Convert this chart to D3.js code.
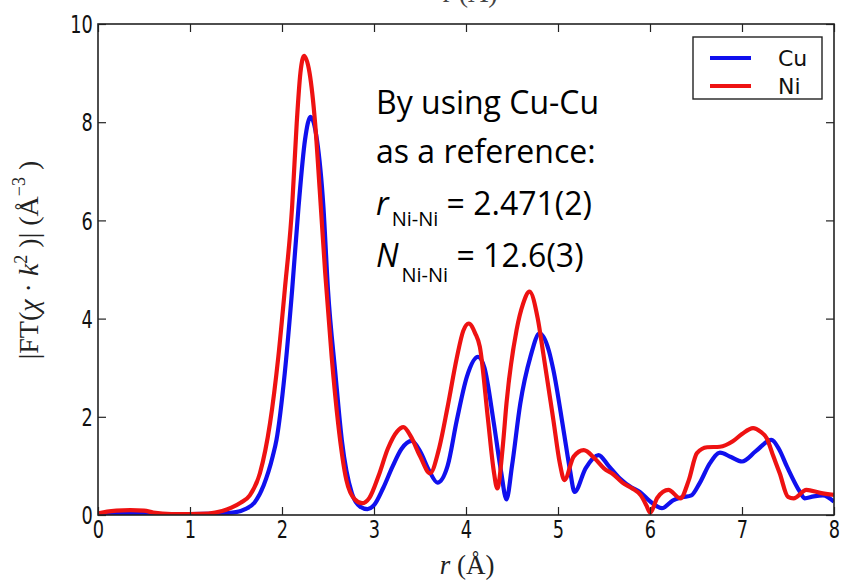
<!DOCTYPE html>
<html>
<head>
<meta charset="utf-8">
<script src="https://cdn.jsdelivr.net/npm/d3@7"></script>
<style>
  body { margin: 0; background: #fff; }
  svg { display: block; }
</style>
</head>
<body>
<svg id="chart" width="843" height="584"></svg>
<script>
// ---- data ----
const seriesNames = ["Cu", "Ni"];
const xTicks = [0, 1, 2, 3, 4, 5, 6, 7, 8];
const yTicks = [0, 2, 4, 6, 8, 10];

const rCu = [0, 0.3, 0.6, 1.0, 1.3, 1.5, 1.6, 1.7, 1.8, 1.9, 1.94, 2.03, 2.11, 2.18, 2.25, 2.31, 2.38, 2.45, 2.50, 2.58, 2.65, 2.76, 2.85, 2.93, 3.0, 3.1, 3.2, 3.3, 3.41, 3.5, 3.6, 3.69, 3.8, 3.9, 4.01, 4.13, 4.2, 4.3, 4.38, 4.44, 4.5, 4.59, 4.7, 4.80, 4.9, 4.95, 5.06, 5.13, 5.18, 5.3, 5.44, 5.55, 5.67, 5.8, 5.89, 6.0, 6.13, 6.25, 6.35, 6.45, 6.54, 6.65, 6.76, 6.88, 7.0, 7.15, 7.32, 7.4, 7.49, 7.63, 7.68, 7.78, 7.88, 8.0];
const cuValues = [0.02, 0.03, 0.02, 0.02, 0.03, 0.06, 0.12, 0.25, 0.6, 1.2, 1.53, 2.89, 4.58, 6.28, 7.64, 8.11, 7.64, 6.28, 4.58, 2.89, 1.53, 0.44, 0.17, 0.12, 0.2, 0.55, 0.98, 1.35, 1.51, 1.3, 0.9, 0.66, 1.0, 1.93, 2.82, 3.22, 3.0, 1.9, 0.9, 0.32, 1.0, 2.27, 3.22, 3.70, 3.35, 2.95, 1.73, 0.92, 0.47, 0.95, 1.22, 1.0, 0.75, 0.56, 0.47, 0.28, 0.14, 0.3, 0.36, 0.4, 0.65, 1.05, 1.27, 1.18, 1.09, 1.3, 1.53, 1.35, 0.98, 0.47, 0.34, 0.38, 0.40, 0.27];

const rNi = [0, 0.1, 0.2, 0.35, 0.5, 0.6, 0.8, 1.0, 1.2, 1.35, 1.45, 1.55, 1.65, 1.76, 1.87, 1.96, 2.03, 2.11, 2.16, 2.20, 2.24, 2.30, 2.36, 2.41, 2.47, 2.54, 2.61, 2.70, 2.79, 2.87, 2.95, 3.05, 3.15, 3.25, 3.32, 3.4, 3.5, 3.61, 3.7, 3.8, 3.9, 3.97, 4.03, 4.1, 4.15, 4.24, 4.30, 4.34, 4.4, 4.44, 4.55, 4.62, 4.69, 4.78, 4.84, 4.95, 5.02, 5.07, 5.17, 5.28, 5.4, 5.5, 5.6, 5.7, 5.8, 5.9, 5.96, 6.0, 6.08, 6.20, 6.33, 6.42, 6.51, 6.62, 6.76, 6.9, 7.0, 7.12, 7.2, 7.27, 7.34, 7.41, 7.5, 7.56, 7.70, 7.85, 8.0];
const niValues = [0.03, 0.07, 0.09, 0.1, 0.09, 0.05, 0.02, 0.02, 0.03, 0.08, 0.15, 0.25, 0.4, 0.85, 1.87, 3.22, 4.58, 6.28, 7.98, 9.0, 9.35, 9.0, 7.98, 6.62, 4.92, 3.22, 1.87, 0.71, 0.32, 0.24, 0.35, 0.8, 1.35, 1.7, 1.79, 1.6, 1.2, 0.85, 1.3, 2.2, 3.2, 3.75, 3.90, 3.7, 3.43, 1.93, 0.92, 0.54, 1.4, 2.27, 3.77, 4.3, 4.55, 4.0, 3.29, 1.93, 1.05, 0.71, 1.19, 1.32, 1.15, 0.95, 0.83, 0.66, 0.55, 0.4, 0.2, 0.05, 0.35, 0.51, 0.34, 0.7, 1.26, 1.38, 1.39, 1.5, 1.65, 1.77, 1.7, 1.56, 1.2, 0.85, 0.37, 0.34, 0.51, 0.45, 0.41];

const colors = { Cu: "#1010ee", Ni: "#ee1212" };

// ---- layout ----
const svg = d3.select("#chart");
const x = d3.scaleLinear().domain([0, 8]).range([98, 834]);
const y = d3.scaleLinear().domain([0, 10]).range([515, 24]);

const tickFont = "'DejaVu Sans', sans-serif";

// title fragment, mostly above the visible page as in the reference
svg.append("text")
  .attr("x", 470).attr("y", 2)
  .attr("text-anchor", "middle")
  .attr("font-family", "'Liberation Serif', serif")
  .attr("font-size", 28)
  .attr("fill", "#444")
  .text("r (Å)");

// curves
svg.append("clipPath").attr("id", "plotclip")
  .append("rect").attr("x", 98).attr("y", 24).attr("width", 736).attr("height", 491);

const lineGen = d3.line()
  .x(d => x(d[0])).y(d => y(d[1]))
  .curve(d3.curveMonotoneX);

const plotG = svg.append("g").attr("clip-path", "url(#plotclip)");
plotG.append("path")
  .datum(d3.zip(rCu, cuValues))
  .attr("fill", "none").attr("stroke", colors.Cu)
  .attr("stroke-width", 4.2).attr("stroke-linejoin", "round")
  .attr("d", lineGen);
plotG.append("path")
  .datum(d3.zip(rNi, niValues))
  .attr("fill", "none").attr("stroke", colors.Ni)
  .attr("stroke-width", 4.2).attr("stroke-linejoin", "round")
  .attr("d", lineGen);

// axes (inward ticks on all sides)
function styleAxis(sel) {
  sel.selectAll(".domain").remove();
  sel.selectAll(".tick line").attr("stroke", "#222").attr("stroke-width", 1.2);
  sel.selectAll(".tick text")
    .attr("font-family", tickFont).attr("font-size", 24).attr("fill", "#111");
}

const axBottom = svg.append("g").attr("transform", "translate(0,515)")
  .call(d3.axisBottom(x).tickValues(xTicks).tickFormat(d3.format("d")).tickSize(-8).tickPadding(6));
styleAxis(axBottom);
axBottom.selectAll(".tick text").attr("transform", "scale(0.74,1)");

const axTop = svg.append("g").attr("transform", "translate(0,24)")
  .call(d3.axisTop(x).tickValues(xTicks).tickFormat("").tickSize(-8));
styleAxis(axTop);

const axLeft = svg.append("g").attr("transform", "translate(98,0)")
  .call(d3.axisLeft(y).tickValues(yTicks).tickFormat(d3.format("d")).tickSize(-8).tickPadding(7));
styleAxis(axLeft);
axLeft.selectAll(".tick text").attr("transform", "scale(0.74,1)").attr("dy", "0.36em");

const axRight = svg.append("g").attr("transform", "translate(834,0)")
  .call(d3.axisRight(y).tickValues(yTicks).tickFormat("").tickSize(-8));
styleAxis(axRight);

// frame
svg.append("rect")
  .attr("x", 98).attr("y", 24).attr("width", 736).attr("height", 491)
  .attr("fill", "none").attr("stroke", "#222").attr("stroke-width", 1.6);

// legend
const leg = svg.append("g");
leg.append("rect")
  .attr("x", 693).attr("y", 37).attr("width", 129).attr("height", 62)
  .attr("fill", "#fff").attr("stroke", "#222").attr("stroke-width", 1.4);
seriesNames.forEach((name, i) => {
  const yy = 58 + i * 28;
  leg.append("line")
    .attr("x1", 710).attr("x2", 751).attr("y1", yy).attr("y2", yy)
    .attr("stroke", colors[name]).attr("stroke-width", 4);
  leg.append("text")
    .attr("x", 778).attr("y", yy + 8)
    .attr("font-family", tickFont).attr("font-size", 22).attr("fill", "#111")
    .text(name);
});

// annotation
const annFont = "'Open Sans', Lato, sans-serif";
const ann = svg.append("g").attr("font-family", annFont).attr("fill", "#000");
ann.append("text").attr("x", 376).attr("y", 114).attr("font-size", 32).text("By using Cu-Cu");
ann.append("text").attr("x", 376).attr("y", 163).attr("font-size", 32).text("as a reference:");
const t3 = ann.append("text").attr("x", 376).attr("y", 215).attr("font-size", 32);
t3.append("tspan").attr("font-style", "italic").text("r");
t3.append("tspan").attr("font-size", 20).attr("dx", 3).attr("dy", 11).text("Ni-Ni");
t3.append("tspan").attr("dy", -11).text(" = 2.471(2)");
const t4 = ann.append("text").attr("x", 376).attr("y", 267).attr("font-size", 32);
t4.append("tspan").attr("font-style", "italic").text("N");
t4.append("tspan").attr("font-size", 20).attr("dx", 3).attr("dy", 15).text("Ni-Ni");
t4.append("tspan").attr("dy", -15).text(" = 12.6(3)");

// axis labels
const serif = "'Liberation Serif', 'DejaVu Serif', serif";
const xl = svg.append("text")
  .attr("x", 467).attr("y", 574).attr("text-anchor", "middle")
  .attr("font-family", serif).attr("font-size", 27).attr("fill", "#222");
xl.append("tspan").attr("font-style", "italic").text("r");
xl.append("tspan").text(" (Å)");

const yl = svg.append("text")
  .attr("transform", "translate(38,260) rotate(-90)")
  .attr("text-anchor", "middle")
  .attr("font-family", serif).attr("font-size", 28).attr("fill", "#222");
yl.append("tspan").text("|FT(");
yl.append("tspan").attr("font-style", "italic").text("χ");
yl.append("tspan").text(" · ");
yl.append("tspan").attr("font-style", "italic").text("k");
yl.append("tspan").attr("font-size", 18).attr("dy", -11).text("2");
yl.append("tspan").attr("dy", 11).text(" )| (Å");
yl.append("tspan").attr("font-size", 18).attr("dy", -13).text("−3");
yl.append("tspan").attr("dy", 13).text(" )");
</script>
</body>
</html>
